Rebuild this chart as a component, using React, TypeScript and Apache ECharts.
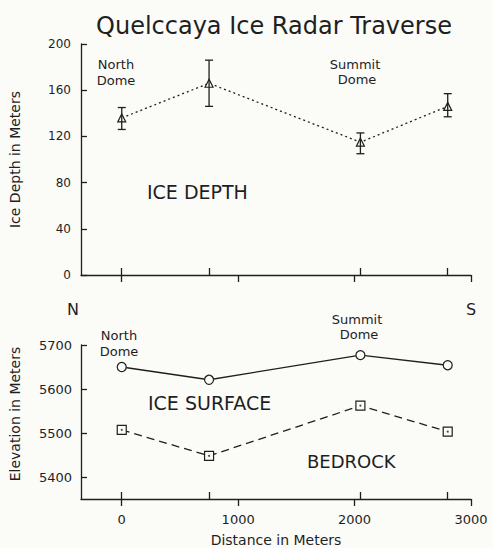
import React, { useEffect, useRef } from 'react';
import * as echarts from 'echarts';

// Data
const distances = [0, 750, 2050, 2800];
const iceDepth = [136, 166, 115, 146];
const depthLow = [126, 146, 105, 137];
const depthHigh = [145, 186, 123, 157];
const iceSurface = [5650, 5621, 5677, 5654];
const bedrock = [5507, 5448, 5562, 5503];
const distanceTicks = [0, 1000, 2000, 3000];
const depthTicks = [0, 40, 80, 120, 160, 200];
const elevationTicks = [5400, 5500, 5600, 5700];

const INK = '#1f1f1f';
const BG = '#fbfbf8';
const FONT = 'DejaVu Sans';

export default function App() {
  const ref = useRef<HTMLDivElement>(null);

  useEffect(() => {
    document.body.style.margin = '0';
    const chart = echarts.init(ref.current!, undefined, { renderer: 'svg' });

    const pair = (ys: number[]) => distances.map((x, i) => [x, ys[i]]);
    const errData = distances.map((x, i) => [x, depthLow[i], depthHigh[i]]);

    const axisLine = { show: true, onZero: false, lineStyle: { color: INK, width: 1.3 } };
    const xMin = -350;
    const xMax = 3000;
    const plain = (v: number) => String(v);

    const baseX = (grid: number, labels: boolean) => ({
      type: 'value',
      gridIndex: grid,
      min: xMin,
      max: xMax,
      position: 'bottom',
      axisLine,
      splitLine: { show: false },
      axisTick: {
        show: true,
        inside: false,
        length: 7,
        customValues: distanceTicks,
        lineStyle: { color: INK, width: 1.3 },
      },
      axisLabel: {
        show: labels,
        customValues: distanceTicks,
        formatter: plain,
        color: INK,
        fontFamily: FONT,
        fontSize: 13,
        margin: 14,
      },
      ...(labels
        ? {
            name: 'Distance in Meters',
            nameLocation: 'middle',
            nameGap: 34,
            nameTextStyle: { color: INK, fontFamily: FONT, fontSize: 14 },
          }
        : {}),
    });

    const pointX = (grid: number) => ({
      type: 'value',
      gridIndex: grid,
      min: xMin,
      max: xMax,
      position: 'bottom',
      offset: 0,
      axisLine: { show: false },
      splitLine: { show: false },
      axisLabel: { show: false },
      axisTick: {
        show: true,
        inside: true,
        length: 7,
        customValues: distances,
        lineStyle: { color: INK, width: 1.3 },
      },
    });

    const yTickStyle = {
      show: true,
      inside: true,
      length: 6,
      lineStyle: { color: INK, width: 1.3 },
    };

    chart.setOption({
      animation: false,
      backgroundColor: BG,
      title: {
        text: 'Quelccaya Ice Radar Traverse',
        left: 269,
        top: 9,
        textAlign: 'center',
        textStyle: { color: INK, fontFamily: FONT, fontSize: 24, fontWeight: 'normal' },
      },
      grid: [
        { left: 76, top: 44, width: 395, height: 231 },
        { left: 76, top: 345, width: 395, height: 162 },
      ],
      xAxis: [baseX(0, false), pointX(0), baseX(1, true), pointX(1)],
      yAxis: [
        {
          type: 'value',
          gridIndex: 0,
          min: 0,
          max: 200,
          interval: 40,
          axisLine,
          axisTick: { ...yTickStyle, customValues: depthTicks },
          splitLine: { show: false },
          axisLabel: { color: INK, fontFamily: FONT, fontSize: 12, margin: 10, customValues: depthTicks, formatter: plain },
          name: 'Ice Depth in Meters',
          nameLocation: 'middle',
          nameGap: 59,
          nameTextStyle: { color: INK, fontFamily: FONT, fontSize: 14 },
        },
        {
          type: 'value',
          gridIndex: 1,
          min: 5350,
          max: 5700,
          axisLine,
          axisTick: { ...yTickStyle, customValues: elevationTicks },
          splitLine: { show: false },
          axisLabel: { color: INK, fontFamily: FONT, fontSize: 13, margin: 9, customValues: elevationTicks, formatter: plain },
          name: 'Elevation in Meters',
          nameLocation: 'middle',
          nameGap: 59,
          nameTextStyle: { color: INK, fontFamily: FONT, fontSize: 14, padding: [0, 0, 0, 16] },
        },
      ],
      series: [
        {
          type: 'line',
          name: 'Ice depth',
          xAxisIndex: 0,
          yAxisIndex: 0,
          data: pair(iceDepth),
          symbol: 'triangle',
          symbolSize: 8,
          lineStyle: { color: INK, width: 1.3, type: [2, 3] },
          itemStyle: { color: BG, borderColor: INK, borderWidth: 1.2 },
          z: 3,
        },
        {
          type: 'custom',
          name: 'Depth range',
          xAxisIndex: 0,
          yAxisIndex: 0,
          data: errData,
          z: 4,
          renderItem: (params: any, api: any) => {
            const x = api.value(0);
            const lo = api.coord([x, api.value(1)]);
            const hi = api.coord([x, api.value(2)]);
            const w = 4;
            const style = { stroke: INK, lineWidth: 1.3 };
            return {
              type: 'group',
              children: [
                { type: 'line', shape: { x1: lo[0], y1: lo[1], x2: hi[0], y2: hi[1] }, style },
                { type: 'line', shape: { x1: lo[0] - w, y1: lo[1], x2: lo[0] + w, y2: lo[1] }, style },
                { type: 'line', shape: { x1: hi[0] - w, y1: hi[1], x2: hi[0] + w, y2: hi[1] }, style },
              ],
            };
          },
        },
        {
          type: 'line',
          name: 'Ice surface',
          xAxisIndex: 2,
          yAxisIndex: 1,
          data: pair(iceSurface),
          symbol: 'circle',
          symbolSize: 9,
          lineStyle: { color: INK, width: 1.3, type: 'solid' },
          itemStyle: { color: BG, borderColor: INK, borderWidth: 1.2 },
        },
        {
          type: 'line',
          name: 'Bedrock',
          xAxisIndex: 2,
          yAxisIndex: 1,
          data: pair(bedrock),
          symbol: 'rect',
          symbolSize: 9,
          lineStyle: { color: INK, width: 1.3, type: [8, 5] },
          itemStyle: { color: BG, borderColor: INK, borderWidth: 1.2 },
        },
        {
          type: 'scatter',
          name: 'Bedrock centre',
          xAxisIndex: 2,
          yAxisIndex: 1,
          data: pair(bedrock),
          symbol: 'circle',
          symbolSize: 2,
          itemStyle: { color: INK },
          z: 5,
          silent: true,
        },
      ],
      graphic: [
        { type: 'text', x: 116, y: 64, style: { text: 'North', fill: INK, font: `13px "${FONT}"`, align: 'center', verticalAlign: 'middle' } },
        { type: 'text', x: 116, y: 80, style: { text: 'Dome', fill: INK, font: `13px "${FONT}"`, align: 'center', verticalAlign: 'middle' } },
        { type: 'text', x: 355, y: 64, style: { text: 'Summit', fill: INK, font: `13px "${FONT}"`, align: 'center', verticalAlign: 'middle' } },
        { type: 'text', x: 357, y: 79, style: { text: 'Dome', fill: INK, font: `13px "${FONT}"`, align: 'center', verticalAlign: 'middle' } },
        { type: 'text', x: 147, y: 192, style: { text: 'ICE DEPTH', fill: INK, font: `19px "${FONT}"`, align: 'left', verticalAlign: 'middle' } },
        { type: 'text', x: 73, y: 309, style: { text: 'N', fill: INK, font: `16px "${FONT}"`, align: 'center', verticalAlign: 'middle' } },
        { type: 'text', x: 471, y: 309, style: { text: 'S', fill: INK, font: `16px "${FONT}"`, align: 'center', verticalAlign: 'middle' } },
        { type: 'text', x: 119, y: 335, style: { text: 'North', fill: INK, font: `13px "${FONT}"`, align: 'center', verticalAlign: 'middle' } },
        { type: 'text', x: 119, y: 351, style: { text: 'Dome', fill: INK, font: `13px "${FONT}"`, align: 'center', verticalAlign: 'middle' } },
        { type: 'text', x: 357, y: 319, style: { text: 'Summit', fill: INK, font: `13px "${FONT}"`, align: 'center', verticalAlign: 'middle' } },
        { type: 'text', x: 359, y: 334, style: { text: 'Dome', fill: INK, font: `13px "${FONT}"`, align: 'center', verticalAlign: 'middle' } },
        { type: 'text', x: 148, y: 403, style: { text: 'ICE SURFACE', fill: INK, font: `19px "${FONT}"`, align: 'left', verticalAlign: 'middle' } },
        { type: 'text', x: 307, y: 461, style: { text: 'BEDROCK', fill: INK, font: `18px "${FONT}"`, align: 'left', verticalAlign: 'middle' } },
      ],
    });

    return () => chart.dispose();
  }, []);

  return (
    <div
      ref={ref}
      style={{ position: 'absolute', left: 0, top: 0, width: 493, height: 548, background: BG }}
    />
  );
}
